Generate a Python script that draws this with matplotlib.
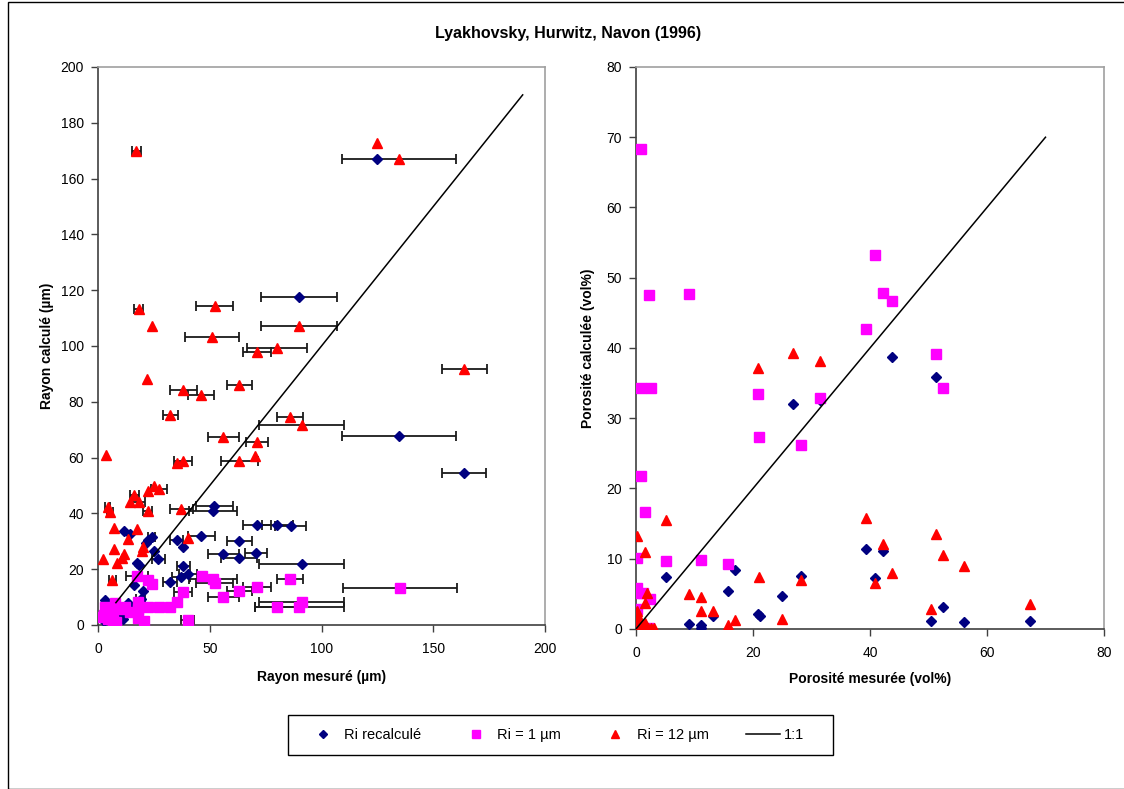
import numpy as np
import matplotlib.pyplot as plt

plt.rcParams['font.family'] = ['Liberation Sans', 'DejaVu Sans']

TITLE = "Lyakhovsky, Hurwitz, Navon (1996)"

# left panel : radius (x measured, xerr, y calculated)
blue_r_x = [125, 90, 134.8, 163.8, 52, 51.3, 71.2, 80.2, 86.2, 46.3, 63.2, 56.1, 63.2, 70.7, 91.1,
            11.5, 14.3, 24, 22.5, 21.5, 35.2, 38.2, 25.2, 27, 17.3, 18.5, 38.2, 16.3, 20.3, 32.2,
            37.1, 40.1, 3.1, 13.6, 19.2, 9.4, 2.5, 14, 6, 17, 11]
blue_r_err = [0, 17, 25.5, 10, 8.3, 10.8, 6.4, 7, 7, 6, 5.7, 7, 8, 5, 19,
              0, 0, 1.5, 0, 0, 3, 0, 0, 3, 0, 0, 3, 0, 0, 3,
              4, 4, 0, 0, 2, 0, 0, 0, 0, 0, 0]
blue_r_y = [167, 117.4, 67.9, 54.5, 42.5, 40.8, 35.8, 35.8, 35.3, 31.8, 30.2, 25.4, 23.9, 25.7, 21.9,
            33.8, 32.6, 31.7, 30.5, 29.3, 30.5, 28.1, 26.6, 23.5, 22.3, 21.5, 21.3, 14.2, 12.2, 15.4,
            17.3, 18.3, 9, 8, 9.2, 3.8, 1.5, 7, 3, 4, 2]

mag_r_x = [135.1, 17.3, 22.5, 24.3, 46.4, 51.3, 52.3, 85.9, 71, 63.2, 56.1, 91.1, 90.1, 80.2,
           38.2, 35.2, 22.5, 27.3, 32.2, 18, 7.6, 3.1, 12.1, 14.3, 18, 10, 5.4, 2.8, 6.8, 8.2,
           18, 20.7, 40.1, 4.3, 1.3]
mag_r_err = [25.5, 5, 0, 0, 0, 10.8, 8.3, 6, 6.3, 5.7, 7, 19, 20, 10,
             4, 0, 0, 0, 0, 0, 0, 0, 0, 0, 0, 0, 0, 0, 0, 0,
             0, 0, 3, 0, 0]
mag_r_y = [13.4, 17.6, 16.1, 14.6, 17.6, 16.4, 15.2, 16.4, 13.5, 12.3, 9.9, 8.4, 6.6, 6.3,
           11.9, 8.4, 6.3, 6.3, 6.3, 8.4, 7.8, 6.3, 6.6, 4.8, 5.7, 5.7, 4.2, 3.6, 1.8, 0.9,
           2.4, 1.6, 1.8, 2, 3]

red_r_x = [17.1, 125, 134.8, 18.2, 52.3, 24.3, 90.1, 51.1, 80, 71.1, 22.1, 163.9, 63.1, 38.2,
           46.1, 32.4, 85.9, 91.1, 56.1, 71, 70.2, 63.2, 3.4, 35.2, 38.2, 25.2, 27.3, 22.2,
           16.3, 14.3, 18.2, 4.3, 5.4, 22.2, 37.3, 7.3, 17.3, 40.1, 13.3, 7.3, 20.3, 19.6,
           2.4, 11.5, 10.8, 8.4, 6.4]
red_r_err = [2, 0, 25.5, 2, 8.3, 0, 17, 12.2, 13.5, 6.3, 0, 10, 5.6, 6,
             6, 3.4, 6, 19, 6.8, 5, 0, 8.3, 0, 0, 4, 0, 3.7, 0,
             2, 0, 3, 1, 1.5, 2, 5, 0, 0, 0, 0, 0, 0, 0,
             0, 0, 0, 0, 1.5]
red_r_y = [169.9, 172.6, 167, 113.3, 114.3, 107.3, 107, 103.1, 99.4, 98, 88.2, 91.6, 86, 84.2,
           82.3, 75.4, 74.6, 71.7, 67.5, 65.7, 60.7, 58.9, 60.8, 58.2, 58.9, 49.8, 48.6, 48.1,
           46.7, 44.1, 44, 42.2, 40.5, 40.9, 41.5, 34.9, 34.5, 31.1, 30.7, 27.4, 28.1, 26.6,
           23.5, 25.4, 24.1, 22.3, 16.1]

line_r = [8, 190]

# right panel : porosity
blue_p_x = [43.8, 26.8, 31.5, 51.2, 39.3, 42.3, 40.9, 52.5, 50.4, 56, 67.4, 16.9, 5.1, 28.2,
            15.7, 24.9, 13.1, 20.8, 21.2, 9.1, 11.2, 11.2, 0.3, 0.8, 1.5, 2.5, 0.1]
blue_p_y = [38.7, 32, 32.6, 35.9, 11.4, 11.1, 7.3, 3.2, 1.2, 0.95, 1.1, 8.4, 7.4, 7.5,
            5.4, 4.7, 1.9, 2.1, 1.8, 0.7, 0.6, 0.15, 0.5, 0.2, 0.1, 0.15, 1.0]

mag_p_x = [0.85, 2.2, 9.1, 40.9, 42.3, 43.7, 39.3, 51.2, 52.5, 0.85, 2.6, 20.8, 31.5, 21, 28.2,
           0.8, 1.6, 0.1, 5.1, 11.2, 15.7, 0.1, 0.2, 1.25, 2.4, 0.1, 0.2, 1, 2.2]
mag_p_y = [68.3, 47.5, 47.7, 53.2, 47.8, 46.7, 42.7, 39.2, 34.3, 34.3, 34.3, 33.4, 32.9, 27.4, 26.2,
           21.8, 16.6, 10.1, 9.7, 9.8, 9.25, 5.9, 5.1, 5.1, 4.2, 2.9, 0.5, 0.3, 0.2]

red_p_x = [26.8, 31.5, 20.8, 39.3, 51.2, 42.3, 52.5, 56, 43.7, 40.9, 67.4, 50.4, 5.1, 0.2, 1.5,
           21.1, 28.2, 1.9, 1.5, 9.1, 11.2, 11.2, 13.1, 16.9, 24.9, 15.7, 0.2, 0.3, 0.5, 0.8,
           1.2, 2, 2.6, 0.2, 1.5, 3]
red_p_y = [39.3, 38.2, 37.1, 15.8, 13.5, 12.1, 10.6, 8.9, 7.9, 6.5, 3.5, 2.8, 15.5, 13.3, 11,
           7.45, 7, 5.1, 3.7, 5, 4.5, 2.5, 2.5, 1.3, 1.4, 0.6, 2.6, 1.9, 1.2, 0.6,
           0.3, 0.2, 0.1, 0.1, 0.8, 0.2]

line_p = [0, 70]

BLUE = "#000080"
MAG = "#ff00ff"
RED = "#ff0000"

fig = plt.figure(figsize=(11.24, 7.89), dpi=100)
ax1 = fig.add_axes([0.0872, 0.2079, 0.3977, 0.7072])
ax2 = fig.add_axes([0.5658, 0.2028, 0.4164, 0.7123])


def draw_bars(ax, x, y, err):
    x = np.array(x); y = np.array(y); err = np.array(err)
    m = err > 0
    ax.errorbar(x[m], y[m], xerr=err[m], fmt="none", ecolor="#1a1a1a",
                elinewidth=1.3, capsize=3.5, capthick=1.3, zorder=2)


for x, y, e in [(blue_r_x, blue_r_y, blue_r_err), (mag_r_x, mag_r_y, mag_r_err),
                (red_r_x, red_r_y, red_r_err)]:
    draw_bars(ax1, x, y, e)

for ax, bx, by, mx, my, rx, ry, ln in [
        (ax1, blue_r_x, blue_r_y, mag_r_x, mag_r_y, red_r_x, red_r_y, line_r),
        (ax2, blue_p_x, blue_p_y, mag_p_x, mag_p_y, red_p_x, red_p_y, line_p)]:
    ax.plot(bx, by, ls="none", marker="D", ms=5.5, color=BLUE, mec=BLUE, zorder=3,
            label="Ri recalculé")
    ax.plot(mx, my, ls="none", marker="s", ms=6.5, color=MAG, mec=MAG, zorder=4,
            label="Ri = 1 µm")
    ax.plot(rx, ry, ls="none", marker="^", ms=7, color=RED, mec=RED, zorder=5,
            label="Ri = 12 µm")
    ax.plot(ln, ln, color="black", lw=1.1, zorder=6, label="1:1")

ax1.set_xlim(0, 200)
ax1.set_ylim(0, 200)
ax1.set_xticks(range(0, 201, 50))
ax1.set_yticks(range(0, 201, 20))
ax1.set_xlabel("Rayon mesuré (µm)", fontsize=10, fontweight="bold", labelpad=10)
ax1.set_ylabel("Rayon calculé (µm)", fontsize=10, fontweight="bold", labelpad=5)

ax2.set_xlim(0, 80)
ax2.set_ylim(0, 80)
ax2.set_xticks(range(0, 81, 20))
ax2.set_yticks(range(0, 81, 10))
ax2.set_xlabel("Porosité mesurée (vol%)", fontsize=10, fontweight="bold", labelpad=9)
ax2.set_ylabel("Porosité calculée (vol%)", fontsize=10, fontweight="bold", labelpad=8)

for ax in (ax1, ax2):
    ax.tick_params(direction="out", length=5, width=1, labelsize=10, color="#404040")
    ax.tick_params(axis="x", pad=7)
    ax.tick_params(axis="y", pad=5)
    for s in ("left", "bottom"):
        ax.spines[s].set_color("#404040")
        ax.spines[s].set_linewidth(1.2)
    for s in ("top", "right"):
        ax.spines[s].set_color("#a0a0a0")
        ax.spines[s].set_linewidth(1.2)

fig.text(0.5054, 0.958, TITLE, ha="center", va="center", fontsize=11.5, fontweight="bold")

# legend: entries left aligned inside a wider box, like the original
h, l = ax2.get_legend_handles_labels()
leg = fig.legend(h, l, loc="center left", bbox_to_anchor=(0.2722, 0.0684), ncol=4,
                 fontsize=10.5, frameon=False, columnspacing=2.6, handlelength=2.3,
                 handletextpad=0.3, markerscale=0.8, borderpad=0, borderaxespad=0)
fig.add_artist(plt.Rectangle((288 / 1124, 1 - 755 / 789), 545 / 1124, 40 / 789,
                             transform=fig.transFigure, fill=False, edgecolor="black", lw=1))

fig.add_artist(plt.Rectangle((0.007, 0.0), 0.995, 0.997, transform=fig.transFigure,
                             fill=False, edgecolor="black", lw=1))

fig.savefig("out.png", dpi=100)
